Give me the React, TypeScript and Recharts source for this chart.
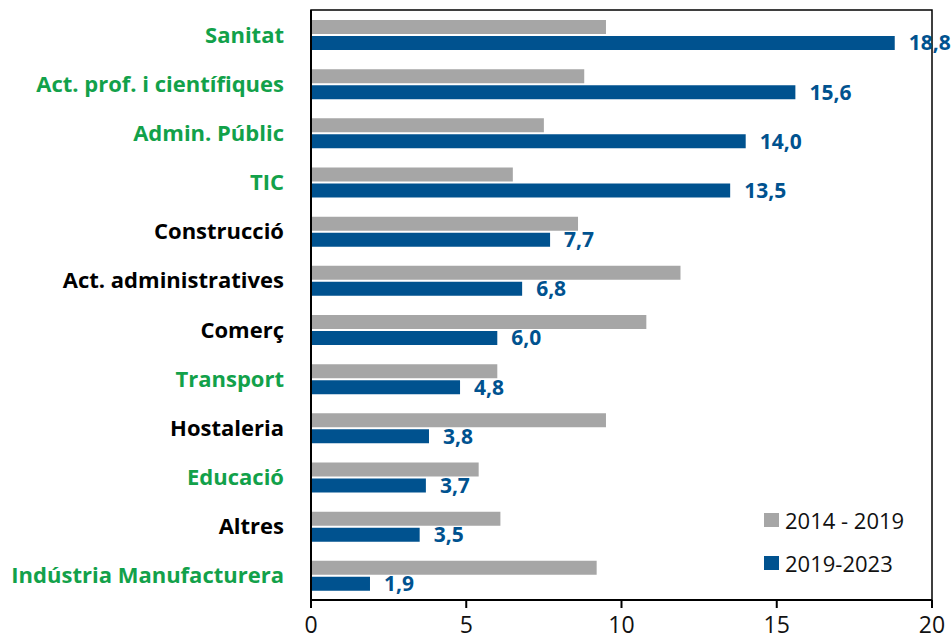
import React from 'react'
import { BarChart, Bar, XAxis, YAxis, LabelList, ReferenceArea } from 'recharts'

const categories = [
  'Sanitat',
  'Act. prof. i científiques',
  'Admin. Públic',
  'TIC',
  'Construcció',
  'Act. administratives',
  'Comerç',
  'Transport',
  'Hostaleria',
  'Educació',
  'Altres',
  'Indústria Manufacturera',
]

const highlighted = [
  'Sanitat',
  'Act. prof. i científiques',
  'Admin. Públic',
  'TIC',
  'Transport',
  'Educació',
  'Indústria Manufacturera',
]

const period1 = [9.5, 8.8, 7.5, 6.5, 8.6, 11.9, 10.8, 6.0, 9.5, 5.4, 6.1, 9.2]
const period2 = [18.8, 15.6, 14.0, 13.5, 7.7, 6.8, 6.0, 4.8, 3.8, 3.7, 3.5, 1.9]
const xTicks = [0, 5, 10, 15, 20]

const seriesNames = ['2014 - 2019', '2019-2023']
const GRAY = '#A6A6A6'
const BLUE = '#00528F'
const GREEN = '#12A14A'
const FONT = '"Open Sans", sans-serif'

const data = categories.map((cat, i) => ({ cat, p1: period1[i], p2: period2[i] }))

const fmt = (v: any) => Number(v).toFixed(1).replace('.', ',')

function CatTick(props: any) {
  const { x, y, payload } = props
  const color = highlighted.includes(payload.value) ? GREEN : '#000'
  return (
    <text
      x={x - 19}
      y={y}
      dy="0.36em"
      textAnchor="end"
      fill={color}
      fontFamily={FONT}
      fontWeight={700}
      fontSize={22}
    >
      {payload.value}
    </text>
  )
}

// legend sits inside the plot, bottom right
function LegendBox() {
  const items = [
    { name: seriesNames[0], color: GRAY },
    { name: seriesNames[1], color: BLUE },
  ]
  return (
    <div style={{ position: 'absolute', left: 764, top: 498, fontFamily: FONT }}>
      {items.map((it) => (
        <div key={it.name} style={{ display: 'flex', alignItems: 'center', height: 43 }}>
          <div style={{ width: 15, height: 14, background: it.color, marginRight: 6 }} />
          <span style={{ fontSize: 22, color: '#111' }}>{it.name}</span>
        </div>
      ))}
    </div>
  )
}

export default function App() {
  return (
    <div style={{ position: 'absolute', left: 0, top: 0, width: 952, height: 639, background: '#fff' }}>
      <BarChart
        width={952}
        height={639}
        data={data}
        layout="vertical"
        margin={{ top: 10, right: 20, bottom: 0, left: 0 }}
        barSize={14}
        barGap={2}
      >
        <XAxis
          type="number"
          domain={[0, 20]}
          ticks={xTicks}
          height={39}
          tickSize={8}
          tickMargin={9}
          axisLine={{ stroke: '#000', strokeWidth: 2 }}
          tickLine={{ stroke: '#000', strokeWidth: 2 }}
          tick={{ fill: '#111', fontSize: 23, fontFamily: FONT }}
        />
        <YAxis
          type="category"
          dataKey="cat"
          width={311}
          interval={0}
          tickLine={false}
          axisLine={{ stroke: '#000', strokeWidth: 2 }}
          tick={<CatTick />}
        />
        <Bar dataKey="p1" name={seriesNames[0]} fill={GRAY} isAnimationActive={false} />
        <Bar dataKey="p2" name={seriesNames[1]} fill={BLUE} isAnimationActive={false}>
          <LabelList
            dataKey="p2"
            position="right"
            offset={14}
            formatter={fmt}
            fill={BLUE}
            fontFamily={FONT}
            fontWeight={700}
            fontSize={21}
          />
        </Bar>
        <ReferenceArea x1={0} x2={20} fill="none" stroke="#000" strokeWidth={1.5} ifOverflow="visible" />
      </BarChart>
      <LegendBox />
    </div>
  )
}
